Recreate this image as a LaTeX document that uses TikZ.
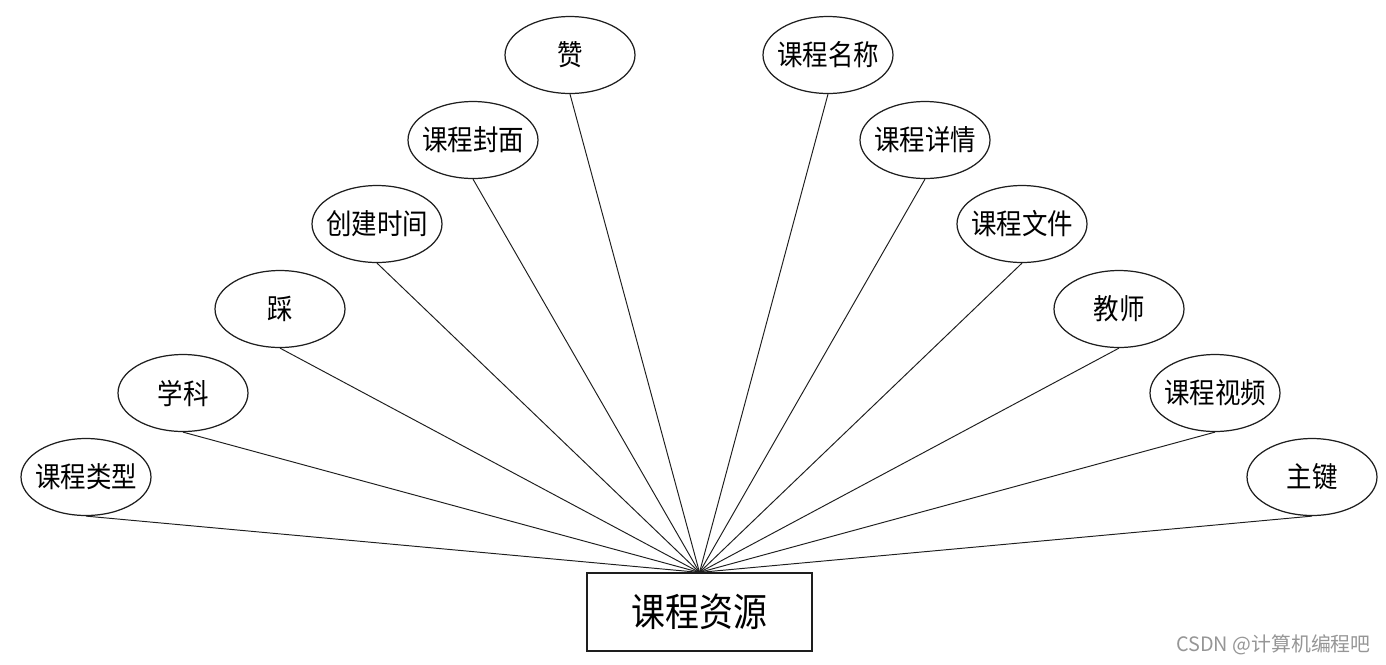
\documentclass[tikz,border=0pt]{standalone}
\usepackage{fontspec}
\usepackage{graphicx}
\usepackage{xcolor}
\usepackage{tikz}
\usetikzlibrary{shapes.geometric,positioning}
\newfontfamily\cjkfont{Noto Sans CJK SC}
\definecolor{erLine}{RGB}{30,30,30}
\definecolor{markGray}{RGB}{150,150,150}
\newcommand{\attrlabel}[1]{\makebox[0pt]{\scalebox{1}[1.12]{#1}}}
\tikzset{
  attrnode/.style={ellipse, draw=erLine, line width=0.7pt, fill=white,
    minimum width=2.6cm, minimum height=1.54cm, inner sep=0pt, align=center,
    font=\cjkfont\fontsize{14.5}{16}\selectfont},
  entitynode/.style={rectangle, draw=erLine, line width=0.7pt, fill=white,
    minimum width=4.5cm, minimum height=1.56cm, inner sep=2pt, align=center,
    font=\cjkfont\fontsize{19.3}{22}\selectfont},
  attrlink/.style={draw=erLine, line width=0.55pt},
  marktext/.style={font=\cjkfont\fontsize{11.3}{13}\selectfont, text=markGray, inner sep=0pt},
}

\begin{document}
\begin{tikzpicture}[x=0.02cm,y=-0.02cm]
  \useasboundingbox (0,0) rectangle (1386,664);

  % entity
  \node[entitynode] (res) at (699.5,612) {\scalebox{1}[1.15]{课程资源}};

  % left attributes
  \node[attrnode] (typ) at (86,477) {\attrlabel{课程类型}};
  \node[attrnode] (subj) at (183,393) {\attrlabel{学科}};
  \node[attrnode] (down) at (280,309) {\attrlabel{踩}};
  \node[attrnode] (ctime) at (377,224) {\attrlabel{创建时间}};
  \node[attrnode] (cover) at (473,140) {\attrlabel{课程封面}};
  \node[attrnode] (up) at (570,55) {\attrlabel{赞}};

  % right attributes
  \node[attrnode] (cname) at (828,55) {\attrlabel{课程名称}};
  \node[attrnode] (detail) at (925,140) {\attrlabel{课程详情}};
  \node[attrnode] (cfile) at (1022,224) {\attrlabel{课程文件}};
  \node[attrnode] (teach) at (1119,309) {\attrlabel{教师}};
  \node[attrnode] (video) at (1215,393) {\attrlabel{课程视频}};
  \node[attrnode] (pkey) at (1312,477) {\attrlabel{主键}};

  % links to entity
  \foreach \a in {typ,subj,down,ctime,cover,up,cname,detail,cfile,teach,video,pkey}
    \draw[attrlink] (\a.south) -- (res.north);

  \node[marktext, anchor=east] (mark) at (1371,645) {CSDN @计算机编程吧};
\end{tikzpicture}
\end{document}
